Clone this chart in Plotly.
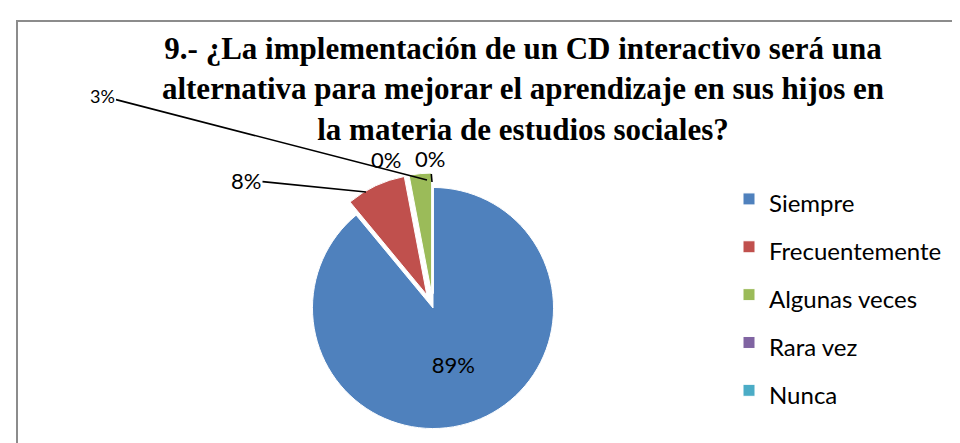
import plotly.graph_objects as go

categories = ["Siempre", "Frecuentemente", "Algunas veces", "Rara vez", "Nunca"]
values = [89, 8, 3, 0, 0]
colors = ["#4F81BD", "#C0504D", "#9BBB59", "#8064A2", "#4BACC6"]
pulls = [0, 0.12, 0.12, 0.12, 0.12]
positions = ["inside", "none", "none", "none", "none"]

title_text = ("9.- ¿La implementación de un CD interactivo será una<br>"
              "alternativa para mejorar el aprendizaje en sus hijos en<br>"
              "la materia de estudios sociales?")

W, H = 960, 443
LEGEND_TEXT_PX = 24
LABEL_FONT = dict(family="Lato, Liberation Sans, sans-serif", size=22, color="black")
SMALL_LABEL_FONT = dict(family="Lato, Liberation Sans, sans-serif", size=18, color="black")

legend_labels = ['<span style="font-size:%dpx">%s</span>' % (LEGEND_TEXT_PX, c) for c in categories]

fig = go.Figure(go.Pie(
    labels=legend_labels,
    values=values,
    sort=False,
    direction="clockwise",
    rotation=0,
    pull=pulls,
    marker=dict(colors=colors, line=dict(color="white", width=1)),
    texttemplate="%{percent:.0%}",
    textposition=positions,
    textfont=LABEL_FONT,
    insidetextorientation="horizontal",
    domain=dict(x=[290 / W, 560 / W], y=[1 - 438 / H, 1 - 162 / H]),
    showlegend=True,
    hovertemplate="%{customdata}: %{percent:.0%}<extra></extra>",
    customdata=categories,
))

total = sum(values)
pct = [f"{round(100 * v / total)}%" for v in values]

# outside data labels with leader lines (label placement as in the reference)
label_specs = [
    # (index, anchor x px, anchor y px, dx, dy, show line, font)
    (1, 358, 184, -120, -12, True, LABEL_FONT),
    (2, 419, 172, -325, -84, True, SMALL_LABEL_FONT),
    (3, 431, 176, -53, -25, False, LABEL_FONT),
    (4, 424, 174, -2, -23, True, LABEL_FONT),
]
annotations = []
for idx, px, py, dx, dy, line, fnt in label_specs:
    annotations.append(dict(
        x=px / W, y=1 - py / H, xref="paper", yref="paper",
        text=pct[idx], font=fnt,
        showarrow=True, arrowhead=0, arrowwidth=1.6, arrowcolor="black" if line else "rgba(0,0,0,0)",
        ax=dx, ay=dy, standoff=0, startstandoff=0,
    ))

fig.update_layout(
    width=W, height=H,
    margin=dict(l=0, r=0, t=0, b=0),
    paper_bgcolor="white",
    plot_bgcolor="white",
    title=dict(
        text="<b>" + title_text + "</b>",
        x=515 / W, xanchor="center",
        y=1 - 51 / H, yanchor="top",
        font=dict(family="Liberation Serif, Times New Roman, serif", size=31, color="black"),
    ),
    legend=dict(
        x=721 / W, xanchor="left",
        y=1 - 287 / H, yanchor="middle",
        font=dict(family="Lato, Liberation Sans, sans-serif", size=34.5, color="black"),
        bgcolor="rgba(0,0,0,0)",
    ),
    annotations=annotations,
    shapes=[dict(
        type="rect", xref="paper", yref="paper",
        x0=9 / W, x1=1.02, y0=-0.02, y1=1 - 13 / H,
        line=dict(color="#8c8c8c", width=2),
    )],
)

fig.write_html("out.html")
